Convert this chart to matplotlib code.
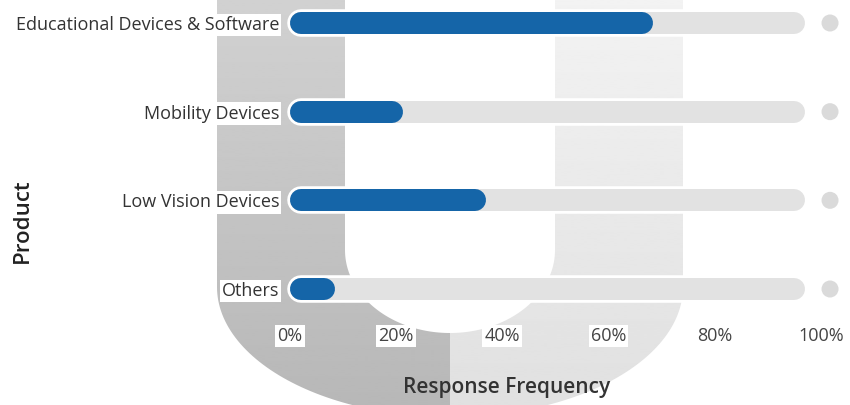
import numpy as np
import matplotlib.pyplot as plt
from matplotlib.path import Path
from matplotlib.patches import PathPatch
import matplotlib.patheffects as pe

plt.rcParams['font.family'] = ['Open Sans', 'DejaVu Sans']

products = ['Others', 'Low Vision Devices', 'Mobility Devices', 'Educational Devices & Software']
share = [8.5, 37.0, 21.3, 68.4]
ticks = [0, 20, 40, 60, 80, 100]
tick_labels = ['0%', '20%', '40%', '60%', '80%', '100%']

W, H = 850, 405
fig = plt.figure(figsize=(W / 100, H / 100), dpi=100)

# background watermark (big grey "U"), drawn in pixel coordinates
bg = fig.add_axes([0, 0, 1, 1], zorder=0)


def half_u(side):
    t = np.linspace(0, np.pi / 2, 60)
    ox = 450 - 233 * np.cos(t)
    oy = 287 + 130 * np.sin(t)
    ix = (450 - 105 * np.cos(t))[::-1]
    iy = (250 + 83 * np.sin(t))[::-1]
    xs = np.concatenate([[217, 217], ox, [450, 450], ix, [345, 345, 217]])
    ys = np.concatenate([[0, 287], oy, [417, 333], iy, [250, 0, 0]])
    if side == 'right':
        xs = 900 - xs
    return Path(np.column_stack([xs, ys]), closed=True)


for side, top, bot in [('left', 0.82, 0.72), ('right', 0.95, 0.88)]:
    p = PathPatch(half_u(side), facecolor='none', edgecolor='none')
    bg.add_patch(p)
    grad = np.linspace(top, bot, 200).reshape(-1, 1)
    im = bg.imshow(grad, cmap='gray', vmin=0, vmax=1, extent=[0, W, H, 0],
                   aspect='auto', zorder=0)
    im.set_clip_path(p)
bg.set_xlim(0, W)
bg.set_ylim(H, 0)
bg.axis('off')

ax = fig.add_axes([282 / W, 80 / H, 563 / W, 325 / H], zorder=1)
ax.patch.set_alpha(0)
px = 531 / 100.0  # pixels per percent
ax.set_xlim(-8 / px, 555 / px)
ypx = 88.67
ax.set_ylim(-36 / ypx, 3 + 23 / ypx)

lw = 22 * 72 / 100
r = 11 / px
y = np.arange(len(products))
halo = [pe.Stroke(linewidth=lw + 4, foreground='white'), pe.Normal()]
for yi, v in zip(y, share):
    ax.plot([r, 97 - r], [yi, yi], color='#e2e2e2', lw=lw, solid_capstyle='round',
            path_effects=halo, zorder=2)
    ax.plot([r, v - r], [yi, yi], color='#1565a8', lw=lw, solid_capstyle='round', zorder=3)
ax.scatter(np.full(len(products), 101.7), y, s=150, color='#dadada', edgecolors='none', zorder=3)

ax.set_yticks(y)
ax.set_yticklabels(products, fontsize=13, color='#333333')
ax.set_xticks(ticks)
ax.set_xticklabels(tick_labels, fontsize=13, color='#444444')
ax.tick_params(length=0)
ax.tick_params(axis='y', pad=2)
ax.tick_params(axis='x', pad=1.5)
for lab in ax.get_xticklabels() + ax.get_yticklabels():
    lab.set_bbox(dict(facecolor='white', edgecolor='none', pad=1.5))
for s in ax.spines.values():
    s.set_visible(False)

fig.text(507 / W, 1 - 388 / H, 'Response Frequency', ha='center', va='center',
         fontsize=15, fontweight='semibold', color='#333333')
fig.text(22 / W, 1 - 221 / H, 'Product', ha='center', va='center', rotation=90,
         fontsize=16, fontweight='semibold', color='#222222')

fig.savefig('out.png', dpi=100)
